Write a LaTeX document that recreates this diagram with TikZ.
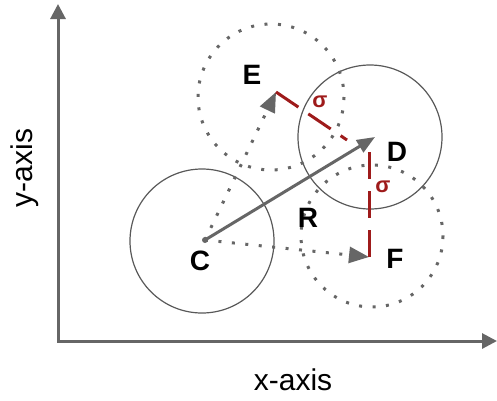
\documentclass[tikz,border=0pt]{standalone}
\usepackage{fontspec}
\setmainfont{Liberation Sans}
\usepackage{tikz}
\usetikzlibrary{arrows.meta}
\definecolor{axisGray}{HTML}{666666}
\definecolor{ringGray}{HTML}{595959}
\definecolor{sigmaRed}{HTML}{9E1B1B}

\begin{document}
\begin{tikzpicture}[
  x=1pt,y=-1pt,
  axis/.style={-{Triangle[length=15pt,width=15pt]},line width=3pt,line cap=rect,draw=axisGray},
  axlabel/.style={font=\fontsize{30}{34}\selectfont,text=black},
  ring/.style={draw=ringGray,line width=1.2pt},
  dotring/.style={draw=axisGray,line width=3pt,dash pattern=on 3pt off 10.5pt},
  vec/.style={-{Triangle[length=18pt,width=14pt]},line width=3pt,draw=axisGray},
  dotvec/.style={-{Triangle[length=20pt,width=16pt]},line width=3pt,draw=axisGray,
    dash pattern=on 3pt off 10.5pt},
  sig/.style={draw=sigmaRed,line width=3pt,dash pattern=on 27pt off 12pt},
  lbl/.style={font=\fontsize{28}{32}\selectfont\bfseries,text=black},
  siglbl/.style={font=\fontsize{22}{26}\selectfont\bfseries,text=sigmaRed}
]
\useasboundingbox (0,0) rectangle (497,400);
% axes
\coordinate (O) at (58,341);
\coordinate (ytop) at (58,4);
\coordinate (xend) at (497,341);
\draw[axis] (O) -- (ytop);
\draw[axis] (O) -- (xend);
\node[axlabel,rotate=90] (ylab) at (25,168) {y-axis};
\node[axlabel] (xlab) at (293,380) {x-axis};
% points
\coordinate (C) at (205,240);
\coordinate (D) at (375,137);
\coordinate (E) at (276,92);
\coordinate (F) at (369,257);
\coordinate (sigE) at (347,140);
\coordinate (sigD) at (369,152);
% neighbourhoods
\draw[ring] (202,241) circle[radius=72];
\draw[ring] (370,137) circle[radius=72];
\draw[dotring] (271,97) circle[radius=73];
\draw[dotring] (372,236) circle[radius=71];
% displacements
\fill[axisGray] (C) circle[radius=3];
\draw[vec] (C) -- (D);
\draw[dotvec] (C) -- (E);
\draw[dotvec] (C) -- (F);
\draw[sig] (E) -- (sigE);
\draw[sig] (sigD) -- (F);
% labels
\node[lbl] (Clab) at (200,261) {C};
\node[lbl] (Dlab) at (397,152) {D};
\node[lbl] (Elab) at (252,75) {E};
\node[lbl] (Flab) at (395,259) {F};
\node[lbl] (Rlab) at (308,218) {R};
\node[siglbl] (s1) at (320,102) {σ};
\node[siglbl] (s2) at (383,187) {σ};
\end{tikzpicture}
\end{document}
